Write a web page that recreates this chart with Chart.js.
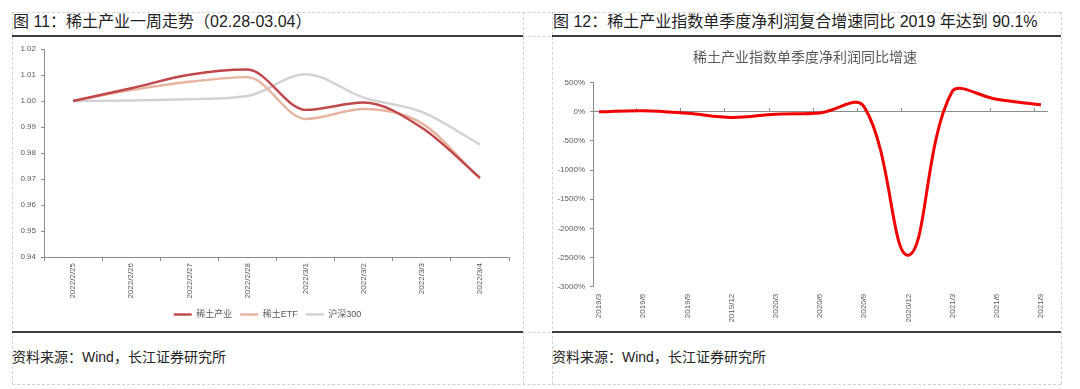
<!DOCTYPE html>
<html><head><meta charset="utf-8">
<script src="https://cdn.jsdelivr.net/npm/chart.js@4.4.1/dist/chart.umd.min.js"></script>
<style>
html,body{margin:0;padding:0;background:#fff;width:1080px;height:389px;overflow:hidden;font-family:"Liberation Sans","Noto Sans CJK SC",sans-serif;}
.hl{position:absolute;height:0;border-top:1px dashed #d2d2d2;}
.vl{position:absolute;width:0;border-left:1px dashed #d2d2d2;}
.solid{position:absolute;height:0;border-top:2px solid #3c3c3c;}
.title{position:absolute;font-size:16px;color:#222;line-height:20px;white-space:nowrap;}
.src{position:absolute;font-size:14px;color:#222;line-height:18px;white-space:nowrap;}
canvas{position:absolute;}
</style></head><body>
<div class="hl" style="left:12px;top:12px;width:1049px"></div>
<div class="hl" style="left:12px;top:36px;width:1049px"></div>
<div class="hl" style="left:12px;top:332px;width:1049px"></div>
<div class="hl" style="left:12px;top:384px;width:1049px"></div>
<div class="vl" style="left:12px;top:12px;height:372px"></div>
<div class="vl" style="left:523px;top:12px;height:372px"></div>
<div class="vl" style="left:552px;top:12px;height:372px"></div>
<div class="vl" style="left:1061px;top:12px;height:372px"></div>
<div class="solid" style="left:12px;top:35px;width:511px"></div>
<div class="solid" style="left:12px;top:331px;width:511px"></div>
<div class="solid" style="left:552px;top:35px;width:509px"></div>
<div class="solid" style="left:552px;top:331px;width:509px"></div>

<div class="title" style="left:13px;top:12px">图 11：稀土产业一周走势（02.28-03.04）</div>
<div class="title" style="left:553px;top:12px">图 12：稀土产业指数单季度净利润复合增速同比 2019 年达到 90.1%</div>
<div class="src" style="left:12px;top:348px">资料来源：Wind，长江证券研究所</div>
<div class="src" style="left:552px;top:348px">资料来源：Wind，长江证券研究所</div>

<canvas id="c1" width="509" height="294" style="left:13px;top:37px"></canvas>
<canvas id="c2" width="508" height="294" style="left:553px;top:37px"></canvas>

<script>
// ---- Chart 1 data ----
const weekDays = ['2022/2/25','2022/2/26','2022/2/27','2022/2/28','2022/3/1','2022/3/2','2022/3/3','2022/3/4'];
const rareEarthIndustry = [1.000, 1.0049, 1.0101, 1.0121, 0.9966, 0.9994, 0.9897, 0.9705];
const rareEarthETF      = [1.000, 1.0042, 1.0074, 1.0092, 0.9931, 0.9969, 0.9914, 0.9700];
const csi300            = [1.000, 1.0002, 1.0007, 1.0019, 1.0103, 1.0013, 0.9958, 0.9833];
const seriesNames = ['稀土产业', '稀土ETF', '沪深300'];
const leftYRange = {min: 0.94, max: 1.02, step: 0.01};

// ---- Chart 2 data ----
const quarters = ['2019/3','2019/6','2019/9','2019/12','2020/3','2020/6','2020/9','2020/12','2021/3','2021/6','2021/9'];
const profitGrowth = [0, 20, -25, -95, -40, -18, 85, -2460, 360, 215, 120];
const rightTitle = '稀土产业指数单季度净利润同比增速';
const rightYRange = {min: -3000, max: 500, step: 500};

Chart.defaults.font.family = "'Liberation Sans','Noto Sans CJK SC',sans-serif";
const AX = '#8c8c8c', TXT = '#595959';

const leftLine = (label, data, color) => ({
  label, data, borderColor: color, backgroundColor: color,
  borderWidth: 2.4, pointRadius: 0, cubicInterpolationMode: 'monotone'
});

new Chart(document.getElementById('c1'), {
  type: 'line',
  data: {
    labels: weekDays,
    datasets: [
      leftLine(seriesNames[0], rareEarthIndustry, '#C0474A'),
      leftLine(seriesNames[1], rareEarthETF, '#E6B4A1'),
      leftLine(seriesNames[2], csi300, '#D2D2D2')
    ]
  },
  options: {
    responsive: false, animation: false, devicePixelRatio: 1,
    layout: {padding: {left: 0, right: 0, top: 12, bottom: 2}},
    plugins: {
      tooltip: {enabled: false},
      legend: {position: 'bottom', labels: {usePointStyle: true, pointStyle: 'line', pointStyleWidth: 18, boxHeight: 9, padding: 8, color: TXT, font: {size: 9}}}
    },
    scales: {
      x: {
        offset: true,
        grid: {display: true, drawOnChartArea: false, offset: true, tickLength: 4, color: AX},
        border: {color: AX},
        ticks: {minRotation: 90, maxRotation: 90, autoSkip: false, font: {size: 8}, color: TXT, padding: 2},
        afterFit: s => { s.height = 45; }
      },
      y: {
        min: leftYRange.min, max: leftYRange.max,
        ticks: {stepSize: leftYRange.step, callback: v => Number(v).toFixed(2), font: {size: 8}, color: TXT, padding: 5},
        grid: {display: true, drawOnChartArea: false, tickLength: 3, color: AX},
        border: {color: AX},
        afterFit: s => { s.width = 31; }
      },
      yR: {
        position: 'right', display: true,
        ticks: {display: false}, grid: {display: false}, border: {display: false},
        afterFit: s => { s.width = 13; }
      }
    }
  }
});

new Chart(document.getElementById('c2'), {
  type: 'line',
  data: {
    labels: quarters,
    datasets: [{
      label: rightTitle,
      data: quarters.map((q, i) => ({x: i, y: profitGrowth[i]})),
      borderColor: '#F00000', borderWidth: 3, pointRadius: 0, tension: 0.4
    }]
  },
  options: {
    responsive: false, animation: false, devicePixelRatio: 1,
    layout: {padding: {left: 0, right: 4, top: 0, bottom: 0}},
    plugins: {
      tooltip: {enabled: false},
      legend: {display: false},
      title: {display: true, text: rightTitle, color: TXT, font: {size: 14, weight: 'normal'}, padding: {top: 12.6, bottom: 16.3}}
    },
    scales: {
      x: {
        type: 'linear', min: -0.136, max: quarters.length - 1 + 0.136,
        afterBuildTicks: s => { s.ticks = quarters.map((q, i) => ({value: i})); },
        ticks: {callback: v => quarters[Math.round(v)], minRotation: 90, maxRotation: 90, autoSkip: false, font: {size: 8}, color: TXT, padding: 7},
        grid: {display: false, drawTicks: false},
        border: {display: false},
        afterFit: s => { s.height = 44.3; }
      },
      x0: {
        type: 'linear', axis: 'x', position: {y: 0},
        min: -0.136, max: quarters.length - 1 + 0.136,
        afterBuildTicks: s => { s.ticks = quarters.slice(1).map((q, i) => ({value: i + 1 - 0.15})); },
        ticks: {display: false},
        grid: {display: true, drawOnChartArea: false, drawTicks: true, tickLength: -4, color: AX},
        border: {display: true, color: AX}
      },
      y: {
        min: rightYRange.min, max: rightYRange.max,
        ticks: {stepSize: rightYRange.step, callback: v => v + '%', font: {size: 8}, color: TXT, padding: 5},
        grid: {display: true, drawOnChartArea: false, tickLength: 3, color: AX},
        border: {color: AX},
        afterFit: s => { s.width = 40; }
      },
      yR: {
        position: 'right', display: true,
        ticks: {display: false}, grid: {display: false}, border: {display: false},
        afterFit: s => { s.width = 10; }
      }
    }
  }
});
</script>
</body></html>
